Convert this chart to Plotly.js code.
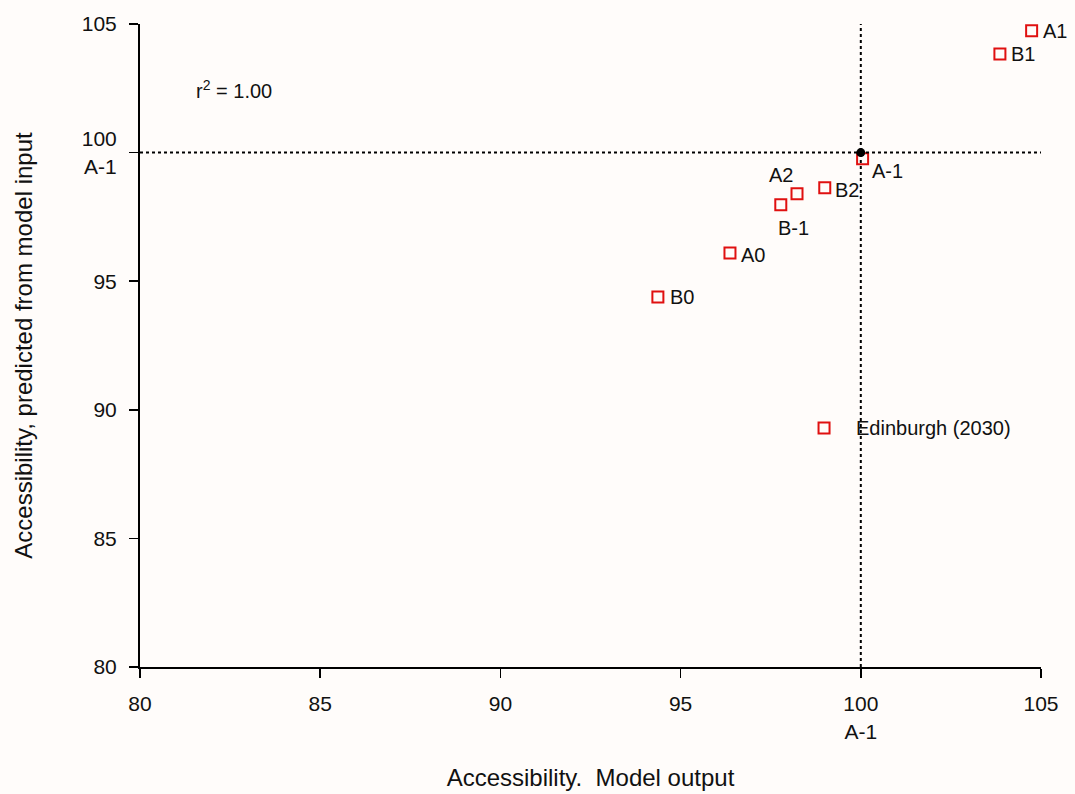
<!DOCTYPE html>
<html>
<head>
<meta charset="utf-8">
<script src="https://cdn.plot.ly/plotly-3.0.1.min.js"></script>
<style>
  html, body { margin: 0; padding: 0; background: #fffcfa; }
  #chart { width: 1075px; height: 794px; }
</style>
</head>
<body>
<div id="chart"></div>
<script>
// Scenario accessibility: model output vs. value predicted from model input
const scenarios = ['A1', 'B1', 'A-1', 'B2', 'A2', 'B-1', 'A0', 'B0', 'Edinburgh (2030)'];
const modelOutput = [104.74, 103.86, 100.05, 99.0, 98.23, 97.78, 96.37, 94.37, 98.98];
const predicted   = [104.74, 103.83, 99.76, 98.63, 98.40, 97.97, 96.10, 94.39, 89.29];

// Reference scenario A-1 = 100 on both axes
const refX = [100];
const refY = [100];
const rSquared = '1.00';

const tickVals = [80, 85, 90, 95, 100, 105];
const tickText = ['80', '85', '90', '95', '100<br>A-1', '105'];

// Label placement for each scenario: [xanchor, xshift, yshift]
const labelPlacement = [
  ['left', 9, 0],
  ['left', 9, 0],
  ['left', 7, -12],
  ['left', 8, -2],
  ['center', -16, 19],
  ['center', 13, -23],
  ['left', 9, -2],
  ['left', 10, 0],
  ['left', 30, 0]
];

const family = 'Liberation Sans, Arial, sans-serif';
const font = { family: family, size: 20, color: '#111' };

const traces = [
  {
    x: modelOutput, y: predicted, type: 'scatter', mode: 'markers',
    marker: { symbol: 'square-open', size: 11, color: '#e01010', line: { width: 2, color: '#e01010' } },
    hoverinfo: 'x+y', showlegend: false, cliponaxis: false
  },
  {
    x: refX, y: refY, type: 'scatter', mode: 'markers',
    marker: { symbol: 'circle', size: 9, color: '#000' },
    showlegend: false, cliponaxis: false
  }
];

const annotations = scenarios.map((name, i) => ({
  x: modelOutput[i], y: predicted[i], xref: 'x', yref: 'y',
  text: name, showarrow: false,
  xanchor: labelPlacement[i][0], yanchor: 'middle',
  xshift: labelPlacement[i][1], yshift: labelPlacement[i][2],
  font: font
}));
annotations.push({
  x: 82.6, y: 102.45, xref: 'x', yref: 'y', showarrow: false,
  xanchor: 'center', yanchor: 'middle',
  text: 'r<sup>2</sup> = ' + rSquared, font: font
});

const axisCommon = {
  range: [80, 105], tickvals: tickVals, ticktext: tickText,
  ticks: 'outside', ticklen: 9, tickwidth: 1.5, tickcolor: '#000',
  showline: true, linecolor: '#000', linewidth: 2, showgrid: false, zeroline: false,
  tickfont: { family: family, size: 21, color: '#111' },
  ticklabelstandoff: 8
};

const layout = {
  width: 1075, height: 794,
  paper_bgcolor: '#fffcfa', plot_bgcolor: '#fffcfa',
  margin: { l: 140, r: 34, t: 24, b: 127 },
  font: font,
  xaxis: Object.assign({}, axisCommon, {
    title: { text: 'Accessibility.  Model output', font: { family: family, size: 24, color: '#111' }, standoff: 28 }
  }),
  yaxis: Object.assign({}, axisCommon, {
    title: { text: 'Accessibility, predicted from model input', font: { family: family, size: 24, color: '#111' }, standoff: 42 }
  }),
  shapes: [
    { type: 'line', xref: 'x', yref: 'y', x0: 80, x1: 105, y0: refY[0], y1: refY[0],
      line: { color: '#000', width: 2, dash: 'dot' } },
    { type: 'line', xref: 'x', yref: 'y', x0: refX[0], x1: refX[0], y0: 80, y1: 105,
      line: { color: '#000', width: 2, dash: 'dot' } }
  ],
  annotations: annotations
};

Plotly.newPlot('chart', traces, layout, { displayModeBar: false, staticPlot: true });
</script>
</body>
</html>
